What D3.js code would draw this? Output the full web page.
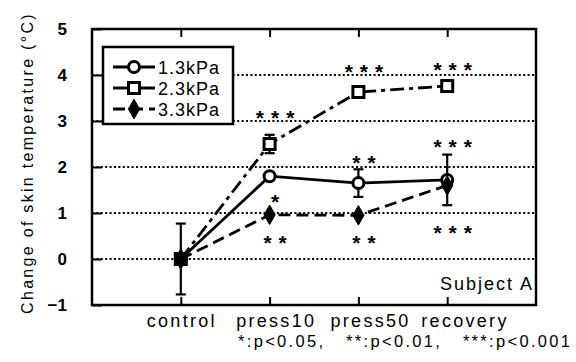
<!DOCTYPE html>
<html>
<head>
<meta charset="utf-8">
<script src="https://cdn.jsdelivr.net/npm/d3@7"></script>
<style>
  body { margin: 0; background: #fff; }
  text { font-family: "Liberation Sans", Arial, sans-serif; fill: #000; }
</style>
</head>
<body>
<svg id="chart" width="576" height="362"></svg>
<script>
// data
const categories = ['control', 'press10', 'press50', 'recovery'];
const yTicks = [-1, 0, 1, 2, 3, 4, 5];
const gridValues = [0, 1, 2, 3, 4];

const seriesNames = ['1.3kPa', '2.3kPa', '3.3kPa'];
const values13 = [0, 1.80, 1.65, 1.72];
const errors13 = [0.77, 0, 0.30, 0.55];
const values23 = [0, 2.50, 3.63, 3.76];
const errors23 = [0, 0.20, 0, 0.10];
const values33 = [0, 0.96, 0.95, 1.60];
const errors33 = [0, 0, 0, 0];

// significance marks: category, value at the marks' centre, text
const starMarks = [
    ['press10', 3.20, '***'],
    ['press10', 1.37, '*'],
    ['press10', 0.48, '**'],
    ['press50', 4.20, '***'],
    ['press50', 2.22, '**'],
    ['press50', 0.48, '**'],
    ['recovery', 4.24, '***'],
    ['recovery', 2.57, '***'],
    ['recovery', 0.70, '***']
];

const plot = { left: 92, right: 536, top: 29, bottom: 305 };

const svg = d3.select('#chart');

const x = d3.scalePoint()
    .domain(categories)
    .range([plot.left, plot.right])
    .padding(1);

const y = d3.scaleLinear()
    .domain([-1, 5])
    .range([plot.bottom, plot.top]);

// dotted grid
svg.append('g')
    .selectAll('line')
    .data(gridValues)
    .enter()
    .append('line')
    .attr('x1', plot.left)
    .attr('x2', plot.right)
    .attr('y1', d => y(d))
    .attr('y2', d => y(d))
    .attr('stroke', '#000')
    .attr('stroke-width', 2)
    .attr('stroke-dasharray', '2,2.4');

// y axis with inward ticks
const yAxis = svg.append('g')
    .attr('transform', `translate(${plot.left},0)`)
    .call(d3.axisLeft(y).tickValues(yTicks).tickSize(-10).tickPadding(25).tickFormat(d3.format('d')));
yAxis.select('.domain').remove();
yAxis.selectAll('line').attr('stroke-width', 2);
yAxis.selectAll('text')
    .style('font-family', '"Liberation Sans", Arial, sans-serif')
    .style('font-size', '17px')
    .style('font-weight', 'bold')
    .attr('fill', '#000');

// x ticks top and bottom (inward)
const xBottom = svg.append('g')
    .attr('transform', `translate(0,${plot.bottom})`)
    .call(d3.axisBottom(x).tickSize(-8).tickFormat(''));
xBottom.select('.domain').remove();
xBottom.selectAll('line').attr('stroke-width', 2);

const xTop = svg.append('g')
    .attr('transform', `translate(0,${plot.top})`)
    .call(d3.axisTop(x).tickSize(-8).tickFormat(''));
xTop.select('.domain').remove();
xTop.selectAll('line').attr('stroke-width', 2);

// category labels
svg.append('g')
    .selectAll('text')
    .data(categories)
    .enter()
    .append('text')
    .attr('x', (d, i) => x(d) + i * 5.6 + 1)
    .attr('y', 327)
    .attr('text-anchor', 'middle')
    .style('font-size', '18px')
    .style('letter-spacing', '2.3px')
    .text(d => d);

// frame
svg.append('rect')
    .attr('x', plot.left)
    .attr('y', plot.top)
    .attr('width', plot.right - plot.left)
    .attr('height', plot.bottom - plot.top)
    .attr('fill', 'none')
    .attr('stroke', '#000')
    .attr('stroke-width', 2.5);

// y label
svg.append('text')
    .attr('transform', `translate(33,163) rotate(-90)`)
    .attr('text-anchor', 'middle')
    .style('font-size', '16px')
    .style('letter-spacing', '2.3px')
    .text('Change of skin temperature (°C)');

const series = [
    { name: seriesNames[0], values: values13, errors: errors13, dash: null, marker: 'circle' },
    { name: seriesNames[1], values: values23, errors: errors23, dash: '14,5,4,5', marker: 'square' },
    { name: seriesNames[2], values: values33, errors: errors33, dash: '12,6', marker: 'diamond' }
];

const line = d3.line()
    .x(d => x(d.cat))
    .y(d => y(d.v));

function drawMarker(g, type) {
    if (type === 'circle') {
        g.append('circle').attr('r', 5.5)
            .attr('fill', '#fff').attr('stroke', '#000').attr('stroke-width', 3);
    } else if (type === 'square') {
        g.append('rect').attr('x', -5.5).attr('y', -5.5).attr('width', 11).attr('height', 11)
            .attr('fill', '#fff').attr('stroke', '#000').attr('stroke-width', 3);
    } else {
        g.append('path').attr('d', d3.symbol().type(d3.symbolDiamond).size(110)())
            .attr('fill', '#000').attr('stroke', '#000').attr('stroke-width', 1);
    }
}

series.forEach(s => {
    const pts = categories.map((c, i) => ({ cat: c, v: s.values[i], e: s.errors[i] }));

    svg.append('path')
        .datum(pts)
        .attr('d', line)
        .attr('fill', 'none')
        .attr('stroke', '#000')
        .attr('stroke-width', 2.8)
        .attr('stroke-dasharray', s.dash);

    // error bars
    const eb = svg.append('g');
    pts.filter(p => p.e > 0).forEach(p => {
        eb.append('line')
            .attr('x1', x(p.cat)).attr('x2', x(p.cat))
            .attr('y1', y(p.v - p.e)).attr('y2', y(p.v + p.e))
            .attr('stroke', '#000').attr('stroke-width', 2.2);
        [p.v - p.e, p.v + p.e].forEach(v => {
            eb.append('line')
                .attr('x1', x(p.cat) - 5).attr('x2', x(p.cat) + 5)
                .attr('y1', y(v)).attr('y2', y(v))
                .attr('stroke', '#000').attr('stroke-width', 2.2);
        });
    });

    pts.forEach(p => {
        const g = svg.append('g').attr('transform', `translate(${x(p.cat)},${y(p.v)})`);
        drawMarker(g, s.marker);
    });
});

// control point: all series overlap into a dark blob
svg.append('path')
    .attr('transform', `translate(${x('control')},${y(0)})`)
    .attr('d', d3.symbol().type(d3.symbolDiamond).size(140)())
    .attr('fill', '#000');

// stars
svg.append('g')
    .selectAll('text')
    .data(starMarks)
    .enter()
    .append('text')
    .attr('x', d => x(d[0]) + 9)
    .attr('y', d => y(d[1]) + 13)
    .attr('text-anchor', 'middle')
    .style('font-size', '21px')
    .style('font-weight', 'bold')
    .style('letter-spacing', '7px')
    .text(d => d[2]);

// legend
const legend = svg.append('g');
legend.append('rect')
    .attr('x', 103).attr('y', 47)
    .attr('width', 130).attr('height', 77)
    .attr('fill', '#fff')
    .attr('stroke', '#000')
    .attr('stroke-width', 2.5);

series.forEach((s, i) => {
    const ly = 67 + i * 21;
    legend.append('line')
        .attr('x1', 113).attr('x2', 155)
        .attr('y1', ly).attr('y2', ly)
        .attr('stroke', '#000')
        .attr('stroke-width', 2.8)
        .attr('stroke-dasharray', s.dash);
    const g = legend.append('g').attr('transform', `translate(134,${ly})`);
    drawMarker(g, s.marker);
    legend.append('text')
        .attr('x', 158)
        .attr('y', ly + 6.5)
        .style('font-size', '18px')
        .style('letter-spacing', '1px')
        .text(s.name);
});

// subject label
svg.append('text')
    .attr('x', 534)
    .attr('y', 290)
    .attr('text-anchor', 'end')
    .style('font-size', '18px')
    .style('letter-spacing', '2px')
    .text('Subject A');

// footnote
svg.append('text')
    .attr('x', 238)
    .attr('y', 347)
    .attr('textLength', 332)
    .attr('lengthAdjust', 'spacing')
    .style('font-size', '16.5px')
    .style('white-space', 'pre')
    .text('*:p<0.05,   **:p<0.01,   ***:p<0.001');
</script>
</body>
</html>
